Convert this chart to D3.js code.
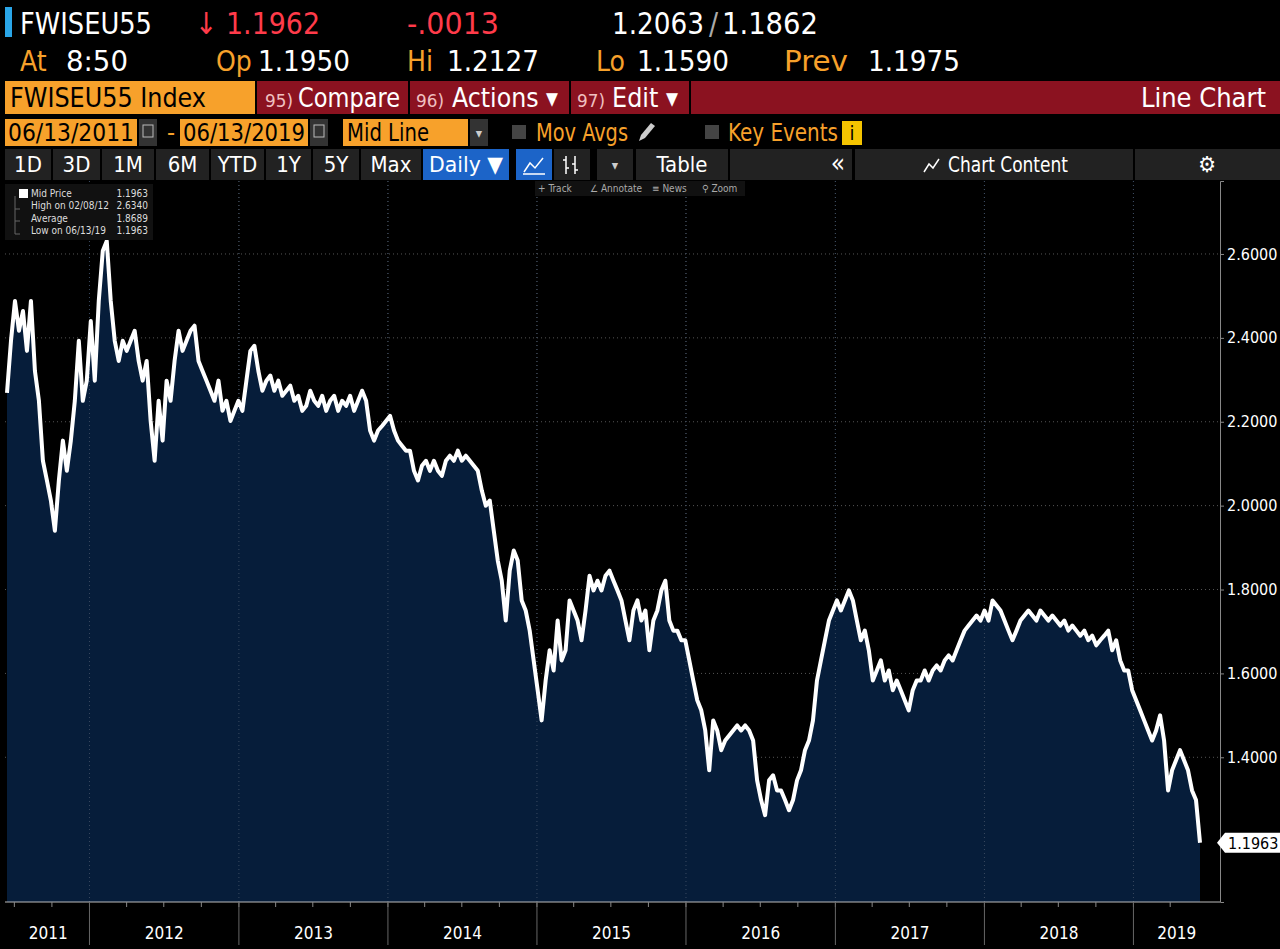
<!DOCTYPE html>
<html><head><meta charset="utf-8">
<script src="https://cdn.jsdelivr.net/npm/d3@7"></script>
<style>
body{margin:0;background:#000;}
text{font-family:"Liberation Sans Narrow","DejaVu Sans Condensed","Arial Narrow",sans-serif;}
</style></head>
<body><svg id="chart"></svg>
<script>
const startDate = "2011-06-13"
const endDate = "2019-06-13"
// mid price samples, evenly spaced between start and end
const midPrice = [2.269,2.393,2.488,2.417,2.464,2.369,2.488,2.321,2.25,2.107,2.060,2.012,1.940,2.060,2.155,2.083,2.155,2.25,2.393,2.25,2.298,2.440,2.298,2.488,2.607,2.631,2.488,2.393,2.345,2.393,2.369,2.393,2.417,2.345,2.298,2.345,2.202,2.107,2.25,2.155,2.298,2.25,2.345,2.417,2.369,2.393,2.417,2.429,2.345,2.321,2.298,2.274,2.25,2.298,2.226,2.25,2.202,2.226,2.25,2.226,2.298,2.369,2.381,2.321,2.274,2.298,2.310,2.274,2.298,2.262,2.274,2.286,2.25,2.262,2.226,2.238,2.274,2.25,2.238,2.262,2.226,2.25,2.262,2.226,2.25,2.238,2.262,2.226,2.25,2.274,2.25,2.179,2.155,2.179,2.190,2.202,2.214,2.179,2.155,2.143,2.131,2.131,2.083,2.060,2.095,2.107,2.083,2.107,2.083,2.071,2.107,2.119,2.107,2.131,2.107,2.119,2.107,2.095,2.083,2.036,2.0,2.012,1.940,1.869,1.821,1.726,1.845,1.893,1.869,1.774,1.75,1.702,1.631,1.560,1.488,1.583,1.655,1.607,1.726,1.631,1.655,1.774,1.75,1.726,1.679,1.75,1.833,1.798,1.821,1.798,1.833,1.845,1.821,1.798,1.774,1.726,1.679,1.75,1.774,1.726,1.75,1.655,1.726,1.75,1.798,1.821,1.726,1.702,1.702,1.679,1.679,1.631,1.583,1.536,1.512,1.464,1.369,1.488,1.464,1.417,1.440,1.452,1.464,1.476,1.464,1.476,1.464,1.440,1.345,1.298,1.262,1.345,1.357,1.321,1.321,1.298,1.274,1.298,1.345,1.369,1.417,1.440,1.488,1.583,1.631,1.679,1.726,1.75,1.774,1.75,1.774,1.798,1.774,1.726,1.679,1.702,1.655,1.583,1.607,1.631,1.583,1.607,1.560,1.583,1.560,1.536,1.512,1.560,1.583,1.583,1.607,1.583,1.607,1.619,1.607,1.631,1.643,1.631,1.655,1.679,1.702,1.714,1.726,1.738,1.726,1.75,1.726,1.774,1.762,1.75,1.726,1.702,1.679,1.702,1.726,1.738,1.75,1.738,1.726,1.75,1.738,1.726,1.738,1.726,1.714,1.726,1.702,1.714,1.702,1.690,1.702,1.679,1.690,1.667,1.679,1.690,1.702,1.655,1.679,1.631,1.607,1.607,1.560,1.536,1.512,1.488,1.464,1.440,1.464,1.500,1.440,1.321,1.369,1.393,1.417,1.393,1.369,1.321,1.298,1.1963]
const yTicks = [1.4, 1.6, 1.8, 2.0, 2.2, 2.4, 2.6]
const yearLabels = ["2011","2012","2013","2014","2015","2016","2017","2018","2019"]
const legendRows = [["Mid Price","1.1963"],["High on 02/08/12","2.6340"],["Average","1.8689"],["Low on 06/13/19","1.1963"]]
const periodButtons = ["1D","3D","1M","6M","YTD","1Y","5Y","Max"]

const W = 1280, H = 949
const svg = d3.select("#chart").attr("width", W).attr("height", H)
svg.append("rect").attr("width", W).attr("height", H).attr("fill", "#000")

const t0 = new Date(startDate), t1 = new Date(endDate)
const data = midPrice.map((v, i) => ({
  date: new Date(+t0 + (t1 - t0) * i / (midPrice.length - 1)), value: v
}))

// ---- header ----
const hdr = svg.append("g")
hdr.append("rect").attr("x", 5).attr("y", 7).attr("width", 7).attr("height", 30).attr("fill", "#2aa6e8")
// fit = optional width to squeeze the text into (the real terminal font is condensed)
const txt = (x, y, s, c, size, anchor, fit) => {
  const t = hdr.append("text").attr("x", x).attr("y", y)
    .attr("fill", c).style("font-size", size + "px").attr("text-anchor", anchor || "start").text(s)
  if (fit) t.attr("textLength", fit).attr("lengthAdjust", "spacingAndGlyphs")
  return t
}
txt(20, 34, "FWISEU55", "#fff", 30, null, 132)
txt(195, 34, "↓ 1.1962", "#ff3b4a", 30, null, 125)
txt(407, 34, "-.0013", "#ff3b4a", 30, null, 92)
txt(612, 34, "1.2063", "#fff", 30, null, 92)
txt(709, 34, "/", "#aaa", 30)
txt(722, 34, "1.1862", "#fff", 30, null, 96)
txt(20, 71, "At", "#f7a12b", 28); txt(66, 71, "8:50", "#fff", 28, null, 62)
txt(216, 71, "Op", "#f7a12b", 28); txt(258, 71, "1.1950", "#fff", 28, null, 92)
txt(407, 71, "Hi", "#f7a12b", 28); txt(447, 71, "1.2127", "#fff", 28, null, 92)
txt(596, 71, "Lo", "#f7a12b", 28); txt(637, 71, "1.1590", "#fff", 28, null, 92)
txt(784, 71, "Prev", "#f7a12b", 28, null, 64); txt(868, 71, "1.1975", "#fff", 28, null, 92)

hdr.append("rect").attr("x", 5).attr("y", 81).attr("width", 250).attr("height", 33).attr("fill", "#f7a12b")
txt(10, 107, "FWISEU55 Index", "#000", 27, null, 196)
hdr.append("rect").attr("x", 257).attr("y", 81).attr("width", 1023).attr("height", 33).attr("fill", "#8b1220")
;[408, 569, 689].forEach(x => hdr.append("rect").attr("x", x).attr("y", 81).attr("width", 2).attr("height", 33).attr("fill", "#000"))
txt(265, 107, "95)", "#f0c0c0", 18, null, 28); txt(298, 107, "Compare", "#fff", 27, null, 102)
txt(416, 107, "96)", "#f0c0c0", 18, null, 28); txt(452, 107, "Actions ▾", "#fff", 27, null, 106)
txt(577, 107, "97)", "#f0c0c0", 18, null, 28); txt(612, 107, "Edit ▾", "#fff", 27, null, 66)
txt(1266, 107, "Line Chart", "#fff", 27, "end")

// date row
;[[5,132,"06/13/2011"],[180,128,"06/13/2019"]].forEach(([x,w,s]) => {
  hdr.append("rect").attr("x", x).attr("y", 119).attr("width", w).attr("height", 27).attr("fill", "#f7a12b")
  txt(x + 3, 141, s, "#000", 24, null, w - 6)
  hdr.append("rect").attr("x", x + w + 2).attr("y", 119).attr("width", 18).attr("height", 27).attr("fill", "#333")
  hdr.append("rect").attr("x", x + w + 6).attr("y", 125).attr("width", 10).attr("height", 12)
    .attr("fill", "none").attr("stroke", "#bbb")
})
txt(167, 141, "-", "#f7a12b", 25)
hdr.append("rect").attr("x", 343).attr("y", 119).attr("width", 125).attr("height", 27).attr("fill", "#f7a12b")
txt(347, 141, "Mid Line", "#000", 24, null, 82)
hdr.append("rect").attr("x", 470).attr("y", 119).attr("width", 18).attr("height", 27).attr("fill", "#333")
txt(479, 138, "▾", "#ccc", 14, "middle")
hdr.append("rect").attr("x", 512).attr("y", 125).attr("width", 14).attr("height", 14).attr("fill", "#444")
txt(536, 141, "Mov Avgs", "#f7a12b", 24, null, 92)
// pencil icon
hdr.append("path").attr("d", "M639,141 l2,-6 l10,-12 l4,3 l-10,12 z").attr("fill", "#ccc")
hdr.append("rect").attr("x", 705).attr("y", 125).attr("width", 14).attr("height", 14).attr("fill", "#444")
txt(728, 141, "Key Events", "#f7a12b", 24, null, 110)
hdr.append("rect").attr("x", 842).attr("y", 121).attr("width", 20).attr("height", 24).attr("fill", "#f5c400")
txt(852, 140, "i", "#000", 20, "middle")

// period row
const btnX = [5, 53, 102, 156, 211, 266, 313, 361, 423]
const btnW = [46, 47, 52, 53, 53, 45, 46, 60, 86]
periodButtons.forEach((b, i) => {
  hdr.append("rect").attr("x", btnX[i]).attr("y", 149).attr("width", btnW[i]).attr("height", 31).attr("fill", "#222")
  txt(btnX[i] + btnW[i] / 2, 172, b, "#fff", 22, "middle")
})
hdr.append("rect").attr("x", 423).attr("y", 149).attr("width", 86).attr("height", 31).attr("fill", "#1c64c8")
txt(466, 172, "Daily ▼", "#fff", 22, "middle", 74)
hdr.append("rect").attr("x", 516).attr("y", 149).attr("width", 36).attr("height", 31).attr("fill", "#1c64c8")
hdr.append("path").attr("d", "M524,172 l6,-9 l5,5 l8,-10 M523,174 h22").attr("stroke", "#fff").attr("fill", "none").attr("stroke-width", 1.5)
hdr.append("rect").attr("x", 554).attr("y", 149).attr("width", 36).attr("height", 31).attr("fill", "#222")
hdr.append("path").attr("d", "M566,156 v18 M563,160 h3 M566,168 h3 M575,156 v18 M572,164 h3 M575,170 h3").attr("stroke", "#fff").attr("fill", "none").attr("stroke-width", 1.5)
hdr.append("rect").attr("x", 597).attr("y", 149).attr("width", 36).attr("height", 31).attr("fill", "#222")
txt(615, 170, "▾", "#ccc", 14, "middle")
hdr.append("rect").attr("x", 636).attr("y", 149).attr("width", 92).attr("height", 31).attr("fill", "#222")
txt(682, 172, "Table", "#fff", 22, "middle")
hdr.append("rect").attr("x", 730).attr("y", 149).attr("width", 122).attr("height", 31).attr("fill", "#222")
txt(838, 172, "«", "#fff", 26, "middle")
hdr.append("rect").attr("x", 855).attr("y", 149).attr("width", 278).attr("height", 31).attr("fill", "#222")
txt(1008, 172, "Chart Content", "#fff", 22, "middle", 120)
hdr.append("path").attr("d", "M924,172 l5,-8 l4,4 l6,-9").attr("stroke", "#fff").attr("fill", "none").attr("stroke-width", 1.5)
hdr.append("rect").attr("x", 1135).attr("y", 149).attr("width", 145).attr("height", 31).attr("fill", "#222")
txt(1207, 172, "⚙", "#fff", 22, "middle")

// ---- chart ----
const x = d3.scaleTime().domain([t0, t1]).range([7, 1200])
const y = d3.scaleLinear().domain([1.055, 2.774]).range([902, 181])
const years = d3.range(2012, 2020).map(yy => new Date(yy + "-01-01"))

const grid = svg.append("g").attr("stroke", "#555").attr("stroke-dasharray", "1,3")
grid.selectAll(".v").data(years).join("line")
  .attr("x1", d => x(d)).attr("x2", d => x(d)).attr("y1", 181).attr("y2", 902)
grid.selectAll(".h").data(yTicks).join("line")
  .attr("x1", 5).attr("x2", 1220).attr("y1", d => y(d)).attr("y2", d => y(d))

const area = d3.area().x(d => x(d.date)).y0(902).y1(d => y(d.value))
svg.append("path").datum(data).attr("d", area).attr("fill", "#061d3a")
// redraw grid faintly over area
svg.append("g").attr("stroke", "#3a4a60").attr("stroke-dasharray", "1,3")
  .selectAll("line").data(years).join("line")
  .attr("x1", d => x(d)).attr("x2", d => x(d)).attr("y1", 181).attr("y2", 902)
const line = d3.line().x(d => x(d.date)).y(d => y(d.value))
svg.append("path").datum(data).attr("d", line).attr("fill", "none")
  .attr("stroke", "#fff").attr("stroke-width", 4).attr("stroke-linejoin", "round")

// right axis
const yAxis = svg.append("g").attr("transform", "translate(1220,0)")
  .call(d3.axisRight(y).tickValues(yTicks).tickFormat(d3.format(".4f")).tickSize(4))
yAxis.select(".domain").attr("stroke", "#888")
yAxis.selectAll(".tick line").attr("stroke", "#888")
yAxis.selectAll("text").attr("fill", "#fff").style("font-size", "16px")
  .style("font-family", "'Liberation Sans Narrow','DejaVu Sans Condensed',sans-serif")
// last price tag
const lastV = midPrice[midPrice.length - 1]
svg.append("path").attr("d", `M1217,${y(lastV)} l8,-10 h55 v20 h-55 z`).attr("fill", "#fff")
svg.append("text").attr("x", 1228).attr("y", y(lastV) + 6).attr("fill", "#000")
  .style("font-size", "16px").text(d3.format(".4f")(lastV))

// bottom axis
svg.append("line").attr("x1", 5).attr("x2", 1220).attr("y1", 902).attr("y2", 902).attr("stroke", "#bbb")
const quarters = d3.timeMonth.every(3).range(t0, t1)
svg.selectAll(".qt").data(quarters).join("line")
  .attr("x1", d => x(d)).attr("x2", d => x(d)).attr("y1", 902).attr("y2", 907).attr("stroke", "#888")
svg.selectAll(".yl").data(years).join("line")
  .attr("x1", d => x(d)).attr("x2", d => x(d)).attr("y1", 902).attr("y2", 945).attr("stroke", "#666")
const labelX = yearLabels.map((s, i) => {
  const a = i === 0 ? 7 : x(years[i - 1])
  const b = i < years.length ? x(years[i]) : 1220
  return (a + b) / 2
})
svg.selectAll(".yt").data(yearLabels).join("text")
  .attr("x", (d, i) => labelX[i]).attr("y", 939).attr("text-anchor", "middle")
  .attr("fill", "#fff").style("font-size", "17px").text(d => d)

// toolbar inside chart
const tools = ["+ Track", "∠ Annotate", "≡ News", "⚲ Zoom"]
const toolX = [538, 590, 652, 702]
svg.append("rect").attr("x", 535).attr("y", 181).attr("width", 210).attr("height", 15).attr("fill", "#111")
tools.forEach((s, i) => svg.append("text").attr("x", toolX[i]).attr("y", 192)
  .attr("fill", "#aaa").style("font-size", "10px").text(s))

// legend box
const lg = svg.append("g")
lg.append("rect").attr("x", 5).attr("y", 184).attr("width", 148).attr("height", 56).attr("fill", "#111")
legendRows.forEach((r, i) => {
  const yy = 197 + i * 12.3
  lg.append("text").attr("x", 31).attr("y", yy).attr("fill", "#ddd").style("font-size", "10px").text(r[0])
  lg.append("text").attr("x", 148).attr("y", yy).attr("fill", "#ddd").attr("text-anchor", "end").style("font-size", "10px").text(r[1])
})
lg.append("rect").attr("x", 19).attr("y", 189).attr("width", 9).attr("height", 9).attr("fill", "#fff")
lg.append("path").attr("d", "M15,196 V234 M15,209 h5 M15,221 h5 M15,234 h5").attr("stroke", "#666").attr("fill", "none")
</script>
</body></html>
